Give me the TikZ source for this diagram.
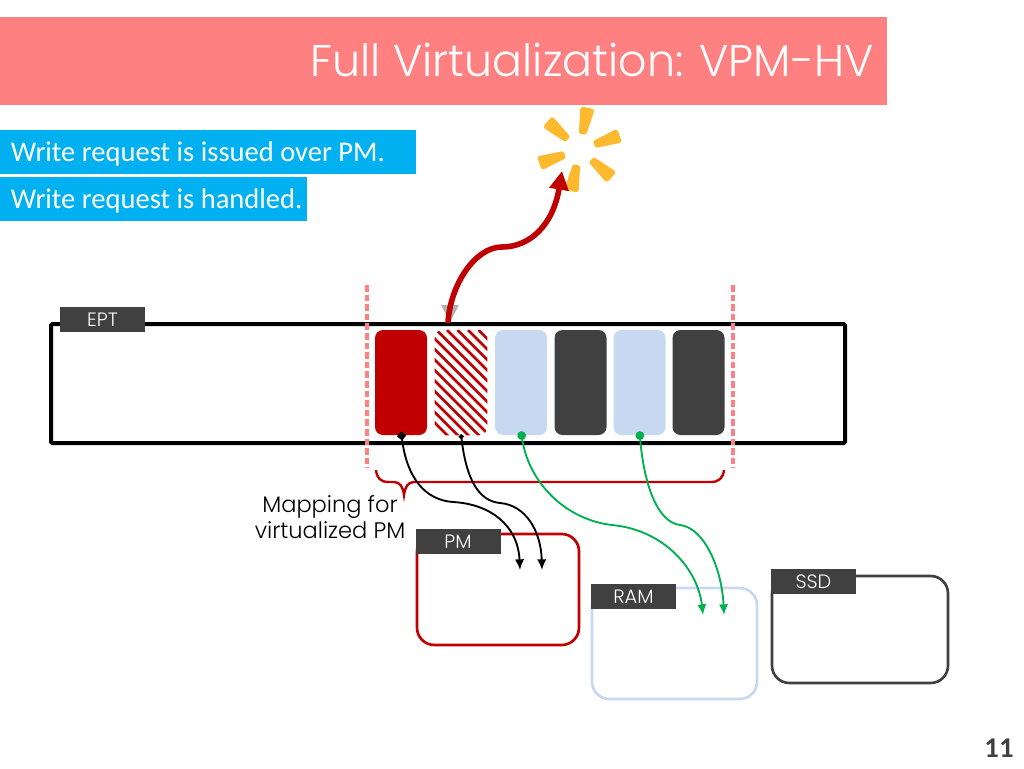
\documentclass[tikz,border=0pt]{standalone}
\usepackage{fontspec}
\setmainfont{Carlito}
\newfontfamily\gothicfont{Poppins Light}
\usetikzlibrary{arrows.meta}
\definecolor{barred}{HTML}{FF8080}
\definecolor{darkred}{HTML}{C00000}
\definecolor{skyblue}{HTML}{00B0F0}
\definecolor{paleblue}{HTML}{C6D9F1}
\definecolor{slate}{HTML}{404040}
\definecolor{mapgreen}{HTML}{00B050}
\definecolor{burst}{HTML}{FFB92E}
\tikzset{
    infobox/.style={fill=skyblue,text=white,anchor=north west,inner sep=0pt,minimum height=33pt,text height=16pt,text depth=2pt,font=\fontsize{21.4}{24}\selectfont},
    tagbox/.style={fill=slate,text=white,minimum width=63.75pt,minimum height=18.75pt,inner sep=0pt,font=\gothicfont\fontsize{14.5}{16}\selectfont},
    cellbox/.style={rounded corners=6pt,minimum width=39pt,minimum height=78.75pt,inner sep=0pt},
    membox/.style={line width=2pt,rounded corners=13pt},
    pinkdash/.style={barred,line width=2.4pt,dash pattern=on 5pt off 2.2pt},
    maparrow/.style={line width=1.4pt}
}
\begin{document}
\begin{tikzpicture}[x=0.75pt,y=-0.75pt]
    \useasboundingbox (0,0) rectangle (1024,768);
    \fill[barred] (0,17) rectangle (887,105);
    \node[anchor=east,text=white,inner sep=0pt,font=\gothicfont\fontsize{33.3}{38}\selectfont] (title) at (874,60) {Full Virtualization: VPM-HV};

    \node[infobox] (issued) at (0,130) {\makebox[312pt][l]{\hspace*{8pt}Write request is issued over PM.}};
    \node[infobox] (handled) at (0,177) {\makebox[230.25pt][l]{\hspace*{8pt}Write request is handled.}};

    % the table and its cells
    \draw[line width=3pt,rounded corners=1pt] (51,324) rectangle (845,443);
    \node[tagbox] (ept) at (102.5,319.5) {EPT};
    \node[cellbox,fill=darkred] (cell1) at (401,382.5) {};
    \node[cellbox] (cell2) at (461,382.5) {};
    \begin{scope}
        \clip[rounded corners=6pt] (cell2.south west) rectangle (cell2.north east);
        \foreach \d in {300,310.5,...,490}
            \draw[darkred,line width=1.9pt] (\d,330)--++(120,120);
    \end{scope}
    \node[cellbox,fill=paleblue] (cell3) at (521,382.5) {};
    \node[cellbox,fill=slate] (cell4) at (580.5,382.5) {};
    \node[cellbox,fill=paleblue] (cell5) at (639.5,382.5) {};
    \node[cellbox,fill=slate] (cell6) at (698.5,382.5) {};

    \draw[pinkdash] (367,285)--(367,468);
    \draw[pinkdash] (733,285)--(733,468);

    % brace under the cells
    \draw[darkred,line width=1.8pt] (376,470) .. controls (377,478) and (380,482) .. (389,482) -- (394,482) .. controls (400,482) and (403,487) .. (404,495) .. controls (405,487) and (408,482) .. (414,482) -- (711,482) .. controls (719,482) and (723,478) .. (724,470);
    \node[align=center,inner sep=0pt,font=\gothicfont\fontsize{16.9}{19.8}\selectfont] (maplabel) at (330,517) {Mapping for\\virtualized PM};

    % memories
    \draw[membox,darkred] (417,534) rectangle (579,645);
    \draw[membox,paleblue] (592,588) rectangle (757,699);
    \draw[membox,slate] (772,576) rectangle (948,683);
    \node[tagbox] (pm) at (458,541.5) {PM};
    \node[tagbox] (ram) at (633.5,596.5) {RAM};
    \node[tagbox] (ssd) at (813.5,581.5) {SSD};

    \coordinate (pma) at (520,570);
    \coordinate (pmb) at (542,570);
    \coordinate (rama) at (703,615);
    \coordinate (ramb) at (724,615);
    \draw[maparrow,{Diamond[length=7pt,width=7pt]}-{Latex[length=8pt,width=7pt]}] ([yshift=3pt]cell1.south) .. controls (407,478) and (425,500) .. (453,502) .. controls (490,504) and (518,525) .. (pma);
    \draw[maparrow,{Diamond[length=4pt,width=4.5pt]}-{Latex[length=8pt,width=7pt]}] ([yshift=1pt]cell2.south) .. controls (466,478) and (478,501) .. (500,503) .. controls (525,505) and (541,530) .. (pmb);
    \draw[maparrow,mapgreen,{Circle[length=6.5pt,width=6.5pt]}-{Latex[length=8pt,width=7pt]}] ([yshift=3pt]cell3.south) .. controls (529,484) and (567,520) .. (612,525) .. controls (665,530) and (698,570) .. (rama);
    \draw[maparrow,mapgreen,{Circle[length=6.5pt,width=6.5pt]}-{Latex[length=8pt,width=7pt]}] ([yshift=3pt]cell5.south) .. controls (644,484) and (657,522) .. (680,525) .. controls (705,528) and (722,570) .. (ramb);

    % write request and its burst
    \fill[gray!60] (441,305)--(459,305)--(450,322)--cycle;
    \coordinate (reqstart) at (448,323);
    \coordinate (bursttip) at (562,171);
    \foreach \a in {79,19,-41,-101,-161,139}
        \filldraw[shift={(579.5,149.5)},rotate=\a,burst,line width=3.75pt,line join=round] (18,-1.5)--(40,-4.5)--(40,4.5)--(18,1.5)--cycle;
    \draw[darkred,line width=4.2pt,-{Triangle[length=14pt,width=14pt]}] (reqstart) .. controls (450,285) and (475,247) .. (502,247) .. controls (530,247) and (553,225) .. (bursttip);

    \node[font=\bfseries\fontsize{21.5}{24}\selectfont,text=slate,inner sep=0pt] (pageno) at (999,748) {11};
\end{tikzpicture}
\end{document}
